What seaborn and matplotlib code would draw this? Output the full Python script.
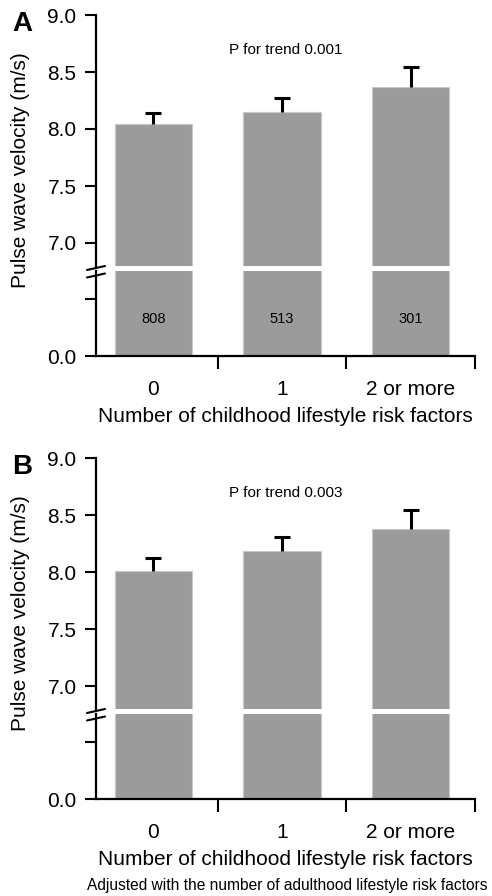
import matplotlib
matplotlib.use("Agg")
import matplotlib.pyplot as plt
import seaborn as sns
from matplotlib.lines import Line2D

# data
categories = ["0", "1", "2 or more"]
counts = ["808", "513", "301"]
pwv_a = [8.04, 8.15, 8.37]
err_a = [0.10, 0.12, 0.17]
pwv_b = [8.01, 8.18, 8.38]
err_b = [0.11, 0.13, 0.16]
p_trend = ["P for trend 0.001", "P for trend 0.003"]

sns.set_style("white")
plt.rcParams["font.family"] = ["Liberation Sans", "DejaVu Sans"]
for k in ("text.color", "axes.labelcolor", "xtick.color", "ytick.color"):
    plt.rcParams[k] = "black"

W, H = 492, 896
fig = plt.figure(figsize=(W / 100, H / 100), dpi=100)
bar_color = "#9b9b9b"


def fx(px):
    return px / W


def fy(py):
    return 1 - py / H


def panel(off, vals, errs, letter, ptxt, show_counts):
    left, right = 96, 475
    ax_top = fig.add_axes([fx(left), fy(266 + off), fx(right) - fx(left), fy(15 + off) - fy(266 + off)])
    ax_bot = fig.add_axes([fx(left), fy(356 + off), fx(right) - fx(left), fy(271 + off) - fy(356 + off)])

    for ax in (ax_top, ax_bot):
        sns.barplot(x=categories, y=vals, color=bar_color, width=0.6, ax=ax,
                    edgecolor="#c8c8c8", linewidth=0.8, saturation=1)
        ax.set_xlim(-0.445, 2.5)
        for s in ("top", "right"):
            ax.spines[s].set_visible(False)
        ax.spines["left"].set_linewidth(1.6)
        ax.spines["left"].set_color("black")
        ax.tick_params(axis="y", direction="out", length=8, width=1.5, labelsize=15, pad=6, left=True)

    # upper error bar only (T shape)
    _, caps, _ = ax_top.errorbar(range(len(vals)), vals, yerr=[[0] * len(vals), errs], fmt="none",
                                 ecolor="black", elinewidth=2.2, capsize=5.5, capthick=2.2)
    caps[0].set_visible(False)
    ax_top.set_ylim(9.0 - (266 - 15) / 114, 9.0)
    ax_top.set_yticks([7.0, 7.5, 8.0, 8.5, 9.0])
    ax_top.set_yticklabels(["7.0", "7.5", "8.0", "8.5", "9.0"])
    ax_top.spines["bottom"].set_visible(False)
    ax_top.set_xticks([])
    ax_top.set_xlabel("")
    ax_top.text(1.03, 8.69, ptxt, ha="center", va="center", fontsize=11)

    ax_bot.set_ylim(0, 1.5)
    ax_bot.set_yticks([0, 1.0])
    ax_bot.set_yticklabels(["0.0", ""])
    ax_bot.spines["bottom"].set_linewidth(1.6)
    ax_bot.spines["bottom"].set_color("black")
    ax_bot.set_xticks([0, 1, 2])
    ax_bot.set_xticklabels(categories)
    ax_bot.set_xticks([0.5, 1.5, 2.5], minor=True)
    ax_bot.tick_params(axis="x", which="major", length=0, labelsize=15, pad=17)
    ax_bot.tick_params(axis="x", which="minor", bottom=True, direction="out", length=9, width=1.5)
    ax_bot.set_xlabel("Number of childhood lifestyle risk factors", fontsize=15)
    ax_bot.xaxis.set_label_coords(0.5, -0.6)
    ax_bot.xaxis.label.set_va("top")

    if show_counts:
        for i, c in enumerate(counts):
            ax_bot.text(i, 0.65, c, ha="center", va="center", fontsize=10.5)

    # break marks on the y axis
    for yy in (268, 275.5):
        fig.add_artist(Line2D([fx(87), fx(105)], [fy(yy + off + 2), fy(yy + off - 2)],
                              color="black", lw=1.5))

    fig.text(fx(21), fy(170 + off), "Pulse wave velocity (m/s)", rotation=90,
             ha="center", va="center", fontsize=15)
    fig.text(fx(22), fy(24 + off), letter, ha="center", va="center",
             fontsize=20, fontweight="bold")


panel(0, pwv_a, err_a, "A", p_trend[0], True)
panel(443, pwv_b, err_b, "B", p_trend[1], False)

fig.text(fx(287), fy(885), "Adjusted with the number of adulthood lifestyle risk factors",
         ha="center", va="center", fontsize=11.2)

fig.savefig("out.png", dpi=100)
